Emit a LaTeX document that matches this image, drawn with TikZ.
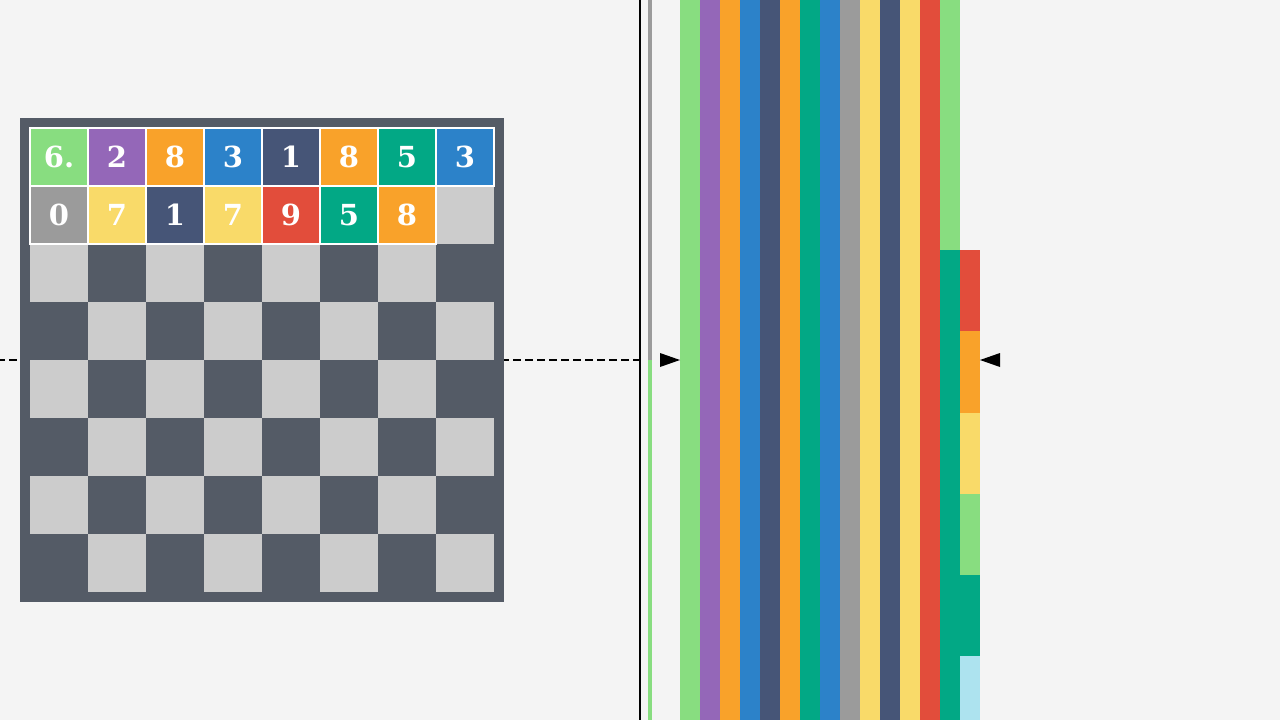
\documentclass[tikz,border=0pt]{standalone}
\usepackage{fontspec}
\newfontfamily\digitfont{DejaVu Serif}
\definecolor{bg}{HTML}{F4F4F4}
\definecolor{frame}{HTML}{545B66}
\definecolor{lightcell}{HTML}{CCCCCC}
\definecolor{cgreen}{HTML}{88DD80}
\definecolor{cpurple}{HTML}{9467B8}
\definecolor{corange}{HTML}{F9A22A}
\definecolor{cblue}{HTML}{2C82C9}
\definecolor{cnavy}{HTML}{465577}
\definecolor{cteal}{HTML}{02A885}
\definecolor{cgray}{HTML}{9B9B9B}
\definecolor{cyellow}{HTML}{F9DA69}
\definecolor{cred}{HTML}{E24D3B}
\definecolor{clightblue}{HTML}{ADE3EF}
\tikzset{
  cell/.style={draw=white, line width=1.2pt, minimum width=58pt, minimum height=58pt,
    inner sep=0pt, outer sep=0pt, text=white, font=\digitfont\bfseries\fontsize{29}{29}\selectfont},
  guide/.style={line width=2.2pt, dash pattern=on 8pt off 4pt, dash phase=3pt},
}
\begin{document}
\begin{tikzpicture}[x=1pt,y=-1pt]
\fill[bg] (0,0) rectangle (1280,720);
\useasboundingbox (0,0) rectangle (1280,720);
% dashed guide line
\coordinate (gl) at (0,360);
\coordinate (gr) at (640,360);
\draw[guide] (gl) -- (gr);
% board
\fill[frame] (20,118) rectangle (504,602);
\foreach \r in {0,...,7}{
  \foreach \c in {0,...,7}{
    \pgfmathtruncatemacro{\p}{mod(\r+\c,2)}
    \ifnum\p=0
      \fill[lightcell] ({30+58*\c},{128+58*\r}) rectangle ++(58,58);
    \else
      \fill[frame] ({30+58*\c},{128+58*\r}) rectangle ++(58,58);
    \fi
  }
}
% coloured cells
\foreach \c/\col/\t in {0/cgreen/6., 1/cpurple/2, 2/corange/8, 3/cblue/3, 4/cnavy/1, 5/corange/8, 6/cteal/5, 7/cblue/3}{
  \node[cell, fill=\col] (a\c) at ({59+58*\c},157) {\t};
}
\foreach \c/\col/\t in {0/cgray/0, 1/cyellow/7, 2/cnavy/1, 3/cyellow/7, 4/cred/9, 5/cteal/5, 6/corange/8}{
  \node[cell, fill=\col] (b\c) at ({59+58*\c},215) {\t};
}
\draw[white, line width=1.2pt] (494,128) -- (494,186) -- (436,186);
% vertical lines
\draw[line width=2.5pt] (640,0) -- (640,720);
\fill[cgray] (648,0) rectangle (652,360);
\fill[cgreen] (648,360) rectangle (652,720);
% strips
\foreach \i/\col in {0/cgreen,1/cpurple,2/corange,3/cblue,4/cnavy,5/corange,6/cteal,7/cblue,8/cgray,9/cyellow,10/cnavy,11/cyellow,12/cred}{
  \fill[\col] ({680+20*\i},0) rectangle ++(20,720);
}
\fill[cgreen] (940,0) rectangle (960,250);
\fill[cteal] (940,250) rectangle (960,720);
\foreach \i/\col in {0/cred,1/corange,2/cyellow,3/cgreen,4/cteal}{
  \fill[\col] (960,{250+81.25*\i}) rectangle (980,{250+81.25*(\i+1)});
}
\fill[clightblue] (960,656.25) rectangle (980,720);
% arrow markers
\fill[black] (660,353) -- (680,360) -- (660,367) -- cycle;
\fill[black] (1000,353) -- (980,360) -- (1000,367) -- cycle;
\end{tikzpicture}
\end{document}
